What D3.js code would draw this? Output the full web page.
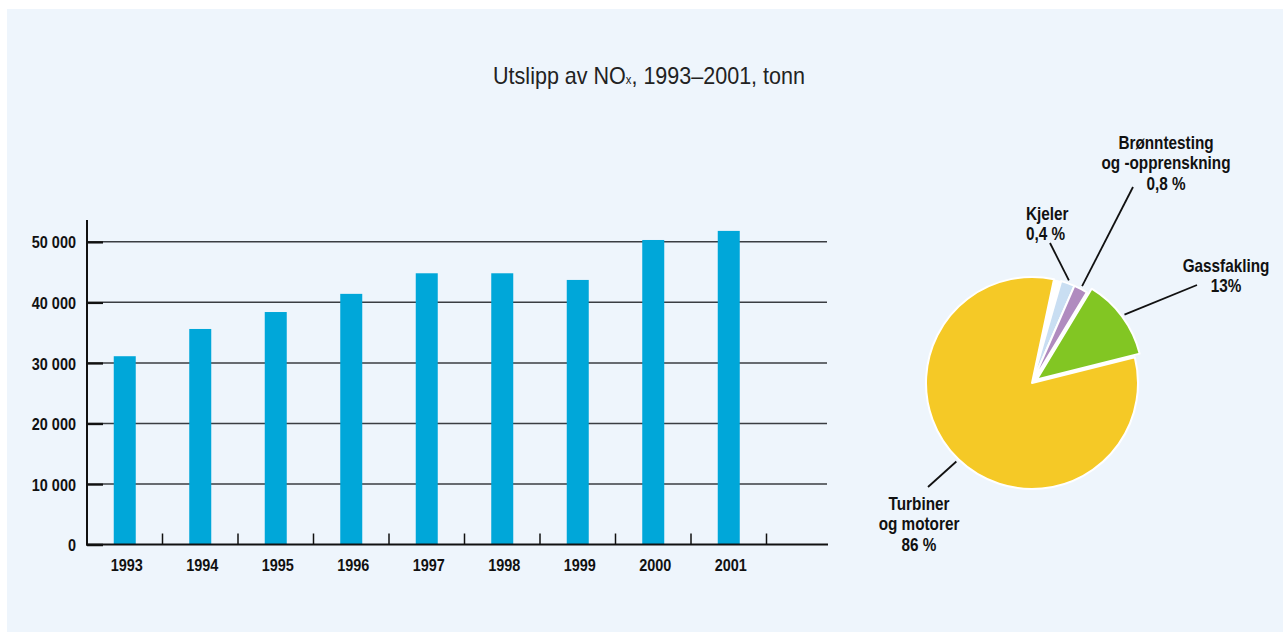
<!DOCTYPE html>
<html lang="no">
<head>
  <meta charset="utf-8">
  <title>Utslipp av NOx</title>
  <script src="https://cdn.jsdelivr.net/npm/d3@7"></script>
  <style>
    body { margin: 0; background: #fff; }
    svg text { font-family: "Liberation Sans", Arial, sans-serif; }
  </style>
</head>
<body>
<div id="ChartArea"></div>
<script>
// data
const years = ["1993", "1994", "1995", "1996", "1997", "1998", "1999", "2000", "2001"];
const noxTonn = [31100, 35600, 38400, 41400, 44800, 44800, 43700, 50300, 51800];
const yTicks = [0, 10000, 20000, 30000, 40000, 50000];

const sources = ["Kjeler", "Brønntesting og -opprenskning", "Gassfakling", "Turbiner og motorer"];
const sourceShare = [0.4, 0.8, 13, 86];
const sourceLabels = [
  ["Kjeler", "0,4 %"],
  ["Brønntesting", "og -opprenskning", "0,8 %"],
  ["Gassfakling", "13%"],
  ["Turbiner", "og motorer", "86 %"]
];
const sourceColors = ["#c9def2", "#b08bbf", "#82c623", "#f5c926"];

const W = 1283, H = 634;
const NARROW = 0.85; // condensed look of the original typeface
const svg = d3.select("#ChartArea").append("svg")
  .attr("width", W).attr("height", H);

// panel
svg.append("rect").attr("x", 7).attr("y", 9).attr("width", 1276).attr("height", 623)
  .attr("fill", "#eef5fc");

// title
const title = svg.append("text")
  .attr("text-anchor", "middle")
  .attr("fill", "#222")
  .style("font-size", "23px");
title.append("tspan").text("Utslipp av NO");
title.append("tspan").style("font-size", "12px").text("x");
title.append("tspan").text(", 1993–2001, tonn");
const tw = title.node().getComputedTextLength();
title.attr("transform", "translate(649,84) scale(" + (312 / tw) + ",1)");

// ---- bar chart ----
const x = d3.scaleBand().domain(years).range([87, 766.5]).padding(0);
const y = d3.scaleLinear().domain([0, 53600]).range([544.5, 220]);
const barW = 22;
const fmt = d3.formatLocale({ decimal: ",", thousands: " ", grouping: [3], currency: ["", ""] }).format(",d");

// grid lines
svg.append("g").selectAll("line")
  .data(yTicks.filter(d => d > 0))
  .enter().append("line")
  .attr("x1", 103).attr("x2", 827)
  .attr("y1", d => y(d)).attr("y2", d => y(d))
  .attr("stroke", "#3a3d42").attr("stroke-width", 1.5);

// y axis
const yAxis = svg.append("g")
  .attr("transform", "translate(87,0)")
  .call(d3.axisLeft(y).tickValues(yTicks).tickSize(-16).tickPadding(13).tickFormat(fmt));
yAxis.select(".domain").remove();
yAxis.selectAll(".tick line").attr("stroke", "#111").attr("stroke-width", 2.5);
yAxis.selectAll(".tick text")
  .attr("fill", "#111").attr("dy", "0.36em")
  .attr("transform", "scale(" + NARROW + ",1)")
  .style("font-size", "17px").style("font-weight", "bold");

// bars
svg.append("g").selectAll("rect")
  .data(noxTonn)
  .enter().append("rect")
  .attr("x", (d, i) => x(years[i]) + (x.bandwidth() - barW) / 2)
  .attr("y", d => y(d))
  .attr("width", barW)
  .attr("height", d => y(0) - y(d))
  .attr("fill", "#00a7d9");

// x axis labels
const xAxis = svg.append("g")
  .attr("transform", "translate(2," + y(0) + ")")
  .call(d3.axisBottom(x).tickSize(0).tickPadding(14));
xAxis.select(".domain").remove();
xAxis.selectAll(".tick text")
  .attr("fill", "#111")
  .attr("transform", "scale(" + NARROW + ",1)")
  .style("font-size", "17px").style("font-weight", "bold");

// axis lines
svg.append("line").attr("x1", 87).attr("x2", 87).attr("y1", 220).attr("y2", y(0) + 1)
  .attr("stroke", "#111").attr("stroke-width", 2);
svg.append("line").attr("x1", 86).attr("x2", 828).attr("y1", y(0)).attr("y2", y(0))
  .attr("stroke", "#111").attr("stroke-width", 2);

// category separator ticks
svg.append("g").selectAll("line")
  .data(years)
  .enter().append("line")
  .attr("x1", d => x(d) + x.bandwidth()).attr("x2", d => x(d) + x.bandwidth())
  .attr("y1", y(0) - 11).attr("y2", y(0))
  .attr("stroke", "#111").attr("stroke-width", 1.5);

// ---- pie chart ----
const cx = 1032, cy = 383, r = 106;
const deg = Math.PI / 180;
// the smallest slices are drawn with a minimum share so they stay visible
const minShare = 2.2;
const pie = d3.pie().sort(null)
  .value(d => Math.max(d, minShare))
  .startAngle(16 * deg).endAngle(372 * deg);
const arcs = pie(sourceShare);
const arc = d3.arc().innerRadius(0).outerRadius(r);
const explode = [0, 0, 6, 0];

const pg = svg.append("g").attr("transform", "translate(" + cx + "," + cy + ")");
pg.append("circle").attr("r", r).attr("fill", "#fff");
pg.selectAll("path")
  .data(arcs)
  .enter().append("path")
  .attr("d", arc)
  .attr("transform", (d, i) => {
    const a = (d.startAngle + d.endAngle) / 2;
    return "translate(" + explode[i] * Math.sin(a) + "," + (-explode[i] * Math.cos(a)) + ")";
  })
  .attr("fill", (d, i) => sourceColors[i])
  .attr("stroke", "#fff").attr("stroke-width", 2).attr("stroke-linejoin", "round");

// labels and leader lines
const labelPos = [
  { x: 1026, y: 220, anchor: "start", lx: 1050, ly: 243 },
  { x: 1166, y: 149, anchor: "middle", lx: 1133, ly: 187 },
  { x: 1226, y: 272, anchor: "middle", lx: 1197, ly: 285 },
  { x: 919, y: 510, anchor: "middle", lx: 928, ly: 487 }
];
arcs.forEach((d, i) => {
  const a = (d.startAngle + d.endAngle) / 2;
  const rr = r + 3 + explode[i];
  pg.append("line")
    .attr("x1", rr * Math.sin(a)).attr("y1", -rr * Math.cos(a))
    .attr("x2", labelPos[i].lx - cx).attr("y2", labelPos[i].ly - cy)
    .attr("stroke", "#111").attr("stroke-width", 1.8);
  const t = svg.append("text")
    .attr("transform", "translate(" + labelPos[i].x + "," + labelPos[i].y + ") scale(" + NARROW + ",1)")
    .attr("text-anchor", labelPos[i].anchor)
    .attr("fill", "#111")
    .style("font-size", "18px").style("font-weight", "bold");
  sourceLabels[i].forEach((s, j) => {
    t.append("tspan").attr("x", 0).attr("dy", j === 0 ? 0 : 20.5).text(s);
  });
});
</script>
</body>
</html>
